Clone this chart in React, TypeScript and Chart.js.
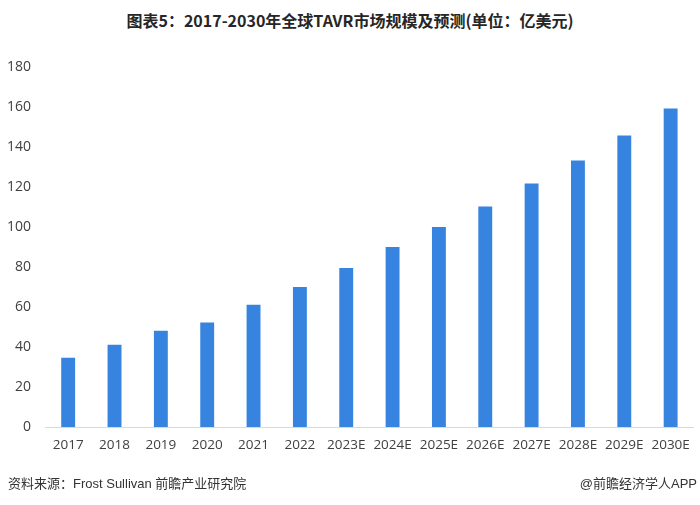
import React, { useEffect, useRef } from "react";
import { Chart, registerables } from "chart.js";

Chart.register(...registerables);

const categories = ["2017", "2018", "2019", "2020", "2021", "2022", "2023E", "2024E", "2025E", "2026E", "2027E", "2028E", "2029E", "2030E"];
const marketSize = [34.6, 41.1, 48.1, 52.2, 61.1, 70.0, 79.5, 90.0, 100.0, 110.3, 121.7, 133.3, 145.8, 159.3];
const yTicks = [0, 20, 40, 60, 80, 100, 120, 140, 160, 180];

const titleText = "图表5：2017-2030年全球TAVR市场规模及预测(单位：亿美元)";
const sourceText = "资料来源：Frost Sullivan 前瞻产业研究院";
const brandText = "@前瞻经济学人APP";

export default function App() {
  const canvasRef = useRef<HTMLCanvasElement | null>(null);

  useEffect(() => {
    const canvas = canvasRef.current;
    if (!canvas) return;
    const chart = new Chart(canvas, {
      type: "bar",
      data: {
        labels: categories,
        datasets: [
          {
            data: marketSize,
            backgroundColor: "#3784e0",
            borderWidth: 0,
            barPercentage: 0.3,
            categoryPercentage: 1,
          },
        ],
      },
      options: {
        responsive: false,
        animation: false,
        layout: { padding: { left: 0, right: 5, top: 67, bottom: 0 } },
        plugins: {
          legend: { display: false },
          tooltip: { enabled: false },
          title: { display: false },
        },
        scales: {
          x: {
            grid: { display: false, drawTicks: false },
            border: { display: true, color: "#d9d9d9", width: 1 },
            ticks: {
              color: "#404040",
              font: { family: "'Open Sans', sans-serif", size: 13.5 },
              padding: 10,
              maxRotation: 0,
              autoSkip: false,
            },
            afterFit: (scale: any) => {
              scale.height = 78;
            },
          },
          y: {
            min: 0,
            max: 180,
            afterBuildTicks: (scale: any) => {
              scale.ticks = yTicks.map((v) => ({ value: v }));
            },
            grid: { display: false, drawTicks: false },
            border: { display: false },
            ticks: {
              color: "#404040",
              font: { family: "'Open Sans', sans-serif", size: 14 },
              padding: 14,
            },
            afterFit: (scale: any) => {
              scale.width = 45;
            },
          },
        },
      },
    });
    return () => chart.destroy();
  }, []);

  return (
    <div style={{ position: "absolute", left: 0, top: 0, width: 700, height: 505, background: "#fff", overflow: "hidden" }}>
      <div
        style={{
          position: "absolute",
          left: 0,
          top: 8,
          width: 700,
          textAlign: "center",
          fontFamily: "'Noto Sans CJK SC', sans-serif",
          fontWeight: 700,
          fontSize: 16,
          lineHeight: "24px",
          color: "#262626",
        }}
      >
        {titleText}
      </div>
      <canvas ref={canvasRef} width={700} height={505} style={{ position: "absolute", left: 0, top: 0 }} />
      <div
        style={{
          position: "absolute",
          left: 8,
          top: 474,
          fontFamily: "'Liberation Sans', 'Noto Sans CJK SC', sans-serif",
          fontSize: 13,
          lineHeight: "20px",
          color: "#333",
          whiteSpace: "nowrap",
        }}
      >
        {sourceText}
      </div>
      <div
        style={{
          position: "absolute",
          right: 3,
          top: 474,
          fontFamily: "'Liberation Sans', 'Noto Sans CJK SC', sans-serif",
          fontSize: 13,
          lineHeight: "20px",
          color: "#333",
          whiteSpace: "nowrap",
        }}
      >
        {brandText}
      </div>
    </div>
  );
}
